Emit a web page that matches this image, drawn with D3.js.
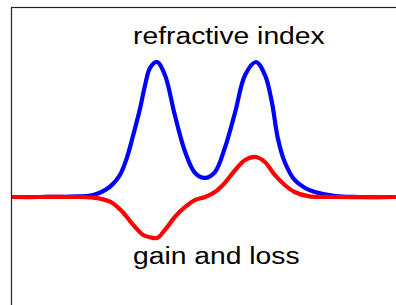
<!DOCTYPE html>
<html>
<head>
<meta charset="utf-8">
<script src="https://cdn.jsdelivr.net/npm/d3@7"></script>
<style>
  body { margin: 0; background: #fff; }
  .label { font-family: "Liberation Sans", Arial, sans-serif; font-size: 23px; fill: #000; }
</style>
</head>
<body>
<script>
// detuning (arbitrary units)
var detuningBlue = [-3.93, -3.36, -2.76, -2.29, -1.95, -1.75, -1.61, -1.48, -1.34, -1.24, -1.14, -1.00,
                    -0.84, -0.64, -0.43, -0.23, -0.03, 0.17, 0.37, 0.58, 0.78, 1.00,
                    1.18, 1.32, 1.44, 1.58, 1.78, 1.99, 2.19, 2.60, 3.10, 3.83];
var refractiveIndex = [0, 0, 0.003, 0.015, 0.076, 0.163, 0.289, 0.459, 0.659, 0.830, 0.956, 1.0,
                       0.904, 0.607, 0.333, 0.178, 0.141, 0.185, 0.363, 0.630, 0.904, 1.0,
                       0.904, 0.704, 0.437, 0.259, 0.126, 0.067, 0.037, 0.007, 0, 0];

var detuningRed = [-3.93, -3.36, -2.76, -2.29, -1.95, -1.70, -1.48, -1.28, -1.14, -1.00, -0.84, -0.64,
                   -0.43, -0.23, -0.03, 0.17, 0.37, 0.58, 0.78, 1.00, 1.18, 1.38, 1.58, 1.78,
                   2.05, 2.60, 3.83];
var gainLoss = [0, 0, 0, -0.005, -0.035, -0.109, -0.207, -0.281, -0.298, -0.304, -0.244, -0.148,
                -0.074, -0.022, 0, 0.037, 0.104, 0.200, 0.274, 0.296, 0.259, 0.163, 0.089, 0.037,
                0.007, 0, 0];

var labelTexts = ["refractive index", "gain and loss"];

var w = 396, h = 305;

var svg = d3.select("body").append("svg")
    .attr("width", w)
    .attr("height", h);

var xScale = d3.scaleLinear().domain([-1, 1]).range([157, 256]);
var yScale = d3.scaleLinear().domain([0, 1]).range([197, 62]);

// axes frame (cropped on the right and bottom)
svg.append("rect")
    .attr("x", 11.5).attr("y", 7.5)
    .attr("width", 600).attr("height", 600)
    .attr("fill", "none")
    .attr("stroke", "#222")
    .attr("stroke-width", 1.2);

var line = d3.line()
    .x(function(d) { return xScale(d[0]); })
    .y(function(d) { return yScale(d[1]); })
    .curve(d3.curveCatmullRom.alpha(0.5));

svg.append("path")
    .datum(d3.zip(detuningBlue, refractiveIndex))
    .attr("fill", "none")
    .attr("stroke", "#0000ff")
    .attr("stroke-width", 4.2)
    .attr("d", line);

svg.append("path")
    .datum(d3.zip(detuningRed, gainLoss))
    .attr("fill", "none")
    .attr("stroke", "#ff0000")
    .attr("stroke-width", 4.2)
    .attr("d", line);

// labels are stretched horizontally like the source image
svg.append("text")
    .attr("class", "label")
    .attr("transform", "translate(" + xScale(-1.485) + "," + yScale(1.133) + ") scale(1.23,1)")
    .text(labelTexts[0]);

svg.append("text")
    .attr("class", "label")
    .attr("transform", "translate(" + xScale(-1.485) + "," + yScale(-0.496) + ") scale(1.23,1)")
    .text(labelTexts[1]);
</script>
</body>
</html>
